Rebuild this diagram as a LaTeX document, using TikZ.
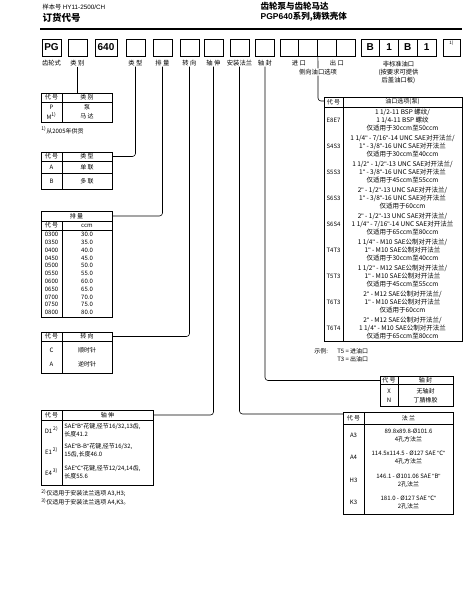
\documentclass[tikz,border=0pt]{standalone}
\usepackage{fontspec}
\setmainfont{Noto Sans CJK SC}
\newfontfamily\hvfont{Liberation Sans}
\newcommand{\qq}{{\hvfont"}}
\usetikzlibrary{positioning}

\begin{document}
\begin{tikzpicture}[x=1pt, y=-1pt, line width=0.6pt,
  codebox/.style={draw, line width=0.9pt, minimum width=19pt, minimum height=17pt, inner sep=0pt, font=\hvfont\bfseries\fontsize{10}{10}\selectfont},
  lbl/.style={inner sep=0.5pt, font=\fontsize{6.3}{7}\selectfont},
  cell/.style={inner sep=0pt, align=center, font=\fontsize{6}{8}\selectfont},
  portcell/.style={cell, font=\fontsize{6.5}{8}\selectfont},
  tabline/.style={line width=0.7pt},
  lead/.style={line width=0.6pt, rounded corners=3pt}]
  \useasboundingbox (0,0) rectangle (465,594);

  \node[anchor=west, font=\fontsize{6.3}{7}\selectfont] (sampleNo) at (39,7) {样本号 {\hvfont HY11-2500/CH}};
  \node[anchor=west, font=\bfseries\fontsize{9.5}{10}\selectfont] (orderCode) at (39,18) {订货代号};
  \node[anchor=west, font=\bfseries\fontsize{8.5}{10}\selectfont] (titleCn) at (257,6) {齿轮泵与齿轮马达};
  \node[anchor=west, font=\bfseries\fontsize{8.5}{10}\selectfont] (titleSer) at (257,17) {{\hvfont PGP640}系列,铸铁壳体};
  \draw[line width=1.5pt] (40,29) -- (462,29);

  \node[codebox] (bxPG) at (51.5,47.5) {PG};
  \node[codebox] (bxCat) at (77.5,47.5) {};
  \node[codebox, minimum width=22pt] (bxSer) at (106,47.5) {640};
  \node[codebox] (bxType) at (135.5,47.5) {};
  \node[codebox] (bxDisp) at (162.5,47.5) {};
  \node[codebox] (bxRot) at (189.5,47.5) {};
  \node[codebox] (bxShaft) at (213.5,47.5) {};
  \node[codebox] (bxFlange) at (239.5,47.5) {};
  \node[codebox] (bxSeal) at (265,47.5) {};
  \foreach \i in {1,...,4}
    \node[codebox, minimum width=18.75pt] (bxPort\i) at (270.6+18.75*\i,47.5) {};
  \foreach \t [count=\i] in {B,1,B,1}
    \node[codebox, minimum width=18.75pt] (bxExt\i) at (351.6+18.75*\i,47.5) {\t};
  \node[codebox, minimum width=17pt] (bxNote) at (451.5,47.5) {};
  \node[below=2pt of bxNote.north, inner sep=0pt, font=\fontsize{4.5}{5}\selectfont] (noteMark) {1)};

  \node[lbl] (lPG) at (51.5,63) {齿轮式};
  \node[lbl] (lCat) at (77.5,63) {类 别};
  \node[lbl] (lType) at (135.5,63) {类 型};
  \node[lbl] (lDisp) at (162.5,63) {排 量};
  \node[lbl] (lRot) at (189.5,63) {转 向};
  \node[lbl] (lShaft) at (213.5,63) {轴 伸};
  \node[lbl] (lFlange) at (239.5,63) {安装法兰};
  \node[lbl] (lSeal) at (265,63) {轴 封};
  \node[lbl] (lIn) at (299,63) {进 口};
  \node[lbl] (lOut) at (337,63) {出 口};
  \node[lbl] (lSide) at (318,72) {侧向油口选项};
  \node[lbl, align=center, font=\fontsize{6.3}{8}\selectfont] (lExt) at (398.5,72) {非标准油口\\(按要求可提供\\后盖油口板)};

  % category
  \draw[tabline] (41,93) rectangle (112,122);
  \draw[tabline] (41,102) -- (112,102) (62,93) -- (62,122);
  \node[cell] at (51.5,97.5) {代 号};
  \node[cell] at (87,97.5) {类 别};
  \node[cell] at (51.5,107) {P};
  \node[cell] at (87,107) {泵};
  \node[cell] at (51.5,116) {M\textsuperscript{1)}};
  \node[cell] at (87,116) {马 达};
  \node[cell, anchor=west] at (41,130) {\textsuperscript{1)}从2005年供货};
  \coordinate (catTab) at (77.5,93);
  \draw[lead] (lCat) -- (catTab);

  % type
  \draw[tabline] (41,152) rectangle (112,189);
  \draw[tabline] (41,161) -- (112,161) (41,173) -- (112,173) (62,152) -- (62,189);
  \node[cell] at (51.5,156.5) {代 号};
  \node[cell] at (87,156.5) {类 型};
  \node[cell] at (51.5,167) {A};
  \node[cell] at (87,167) {单 联};
  \node[cell] at (51.5,181) {B};
  \node[cell] at (87,181) {多 联};
  \coordinate (typeTab) at (112,156.5);
  \draw[lead] (lType.south) |- (typeTab);

  % displacement
  \draw[tabline] (41,211) rectangle (112,317);
  \draw[tabline] (41,221) -- (112,221) (41,230) -- (112,230) (62,221) -- (62,317);
  \node[cell] at (76.5,216) {排 量};
  \node[cell] at (51.5,225.5) {代 号};
  \node[cell] at (87,225.5) {ccm};
  \foreach \c/\m [count=\i from 0] in {0300/30.0,0350/35.0,0400/40.0,0450/45.0,0500/50.0,0550/55.0,0600/60.0,0650/65.0,0700/70.0,0750/75.0,0800/80.0}
  {
    \node[cell] at (51.5,234.5+7.8*\i) {\c};
    \node[cell] at (87,234.5+7.8*\i) {\m};
  }
  \coordinate (dispTab) at (112,216);
  \draw[lead] (lDisp.south) |- (dispTab);

  % rotation
  \draw[tabline] (41,332) rectangle (112,373);
  \draw[tabline] (41,341) -- (112,341) (62,332) -- (62,373);
  \node[cell] at (51.5,336.5) {代 号};
  \node[cell] at (87,336.5) {转 向};
  \node[cell] at (51.5,350) {C};
  \node[cell] at (87,350) {顺时针};
  \node[cell] at (51.5,364) {A};
  \node[cell] at (87,364) {逆时针};
  \coordinate (rotTab) at (112,336.5);
  \draw[lead] (lRot.south) |- (rotTab);

  % shaft
  \draw[tabline] (41,410) rectangle (153,485);
  \draw[tabline] (41,420) -- (153,420) (62,410) -- (62,485);
  \node[cell] at (51.5,415) {代 号};
  \node[cell] at (107.5,415) {轴 伸};
  \foreach \c/\t [count=\i from 0] in {D1/{SAE\qq B\qq 花键,径节16/32,13齿,\\长度41.2},E1/{SAE\qq B-B\qq 花键,径节16/32,\\15齿,长度46.0},E4/{SAE\qq C\qq 花键,径节12/24,14齿,\\长度55.6}}
  {
    \node[cell] at (51.5,430+21*\i) {\c\,\textsuperscript{\ifnum\i=2 3)\else 2)\fi}};
    \node[cell, anchor=west, align=left] at (64,430+21*\i) {\t};
  }
  \node[cell, anchor=west] at (41,493) {\textsuperscript{2)}仅适用于安装法兰选项 A3,H3;};
  \node[cell, anchor=west] at (41,502) {\textsuperscript{3)}仅适用于安装法兰选项 A4,K3。};
  \coordinate (shaftTab) at (153,415);
  \draw[lead] (lShaft.south) |- (shaftTab);

  % ports
  \draw[tabline] (324,97) rectangle (462,341);
  \draw[tabline] (324,107) -- (462,107) (343,97) -- (343,341);
  \node[cell] at (333.5,102) {代 号};
  \node[cell] at (402.5,102) {油口选项(泵)};
  \foreach \c/\t [count=\i from 0] in {
    E8E7/{1 1/2-11 BSP 螺纹/\\1 1/4-11 BSP 螺纹\\仅适用于30ccm至50ccm},
    S4S3/{1 1/4\qq\ - 7/16\qq -14 UNC SAE对开法兰/\\1\qq\ - 3/8\qq -16 UNC SAE对开法兰\\仅适用于30ccm至40ccm},
    S5S3/{1 1/2\qq\ - 1/2\qq -13 UNC SAE对开法兰/\\1\qq\ - 3/8\qq -16 UNC SAE对开法兰\\仅适用于45ccm至55ccm},
    S6S3/{2\qq\ - 1/2\qq -13 UNC SAE对开法兰/\\1\qq\ - 3/8\qq -16 UNC SAE对开法兰\\仅适用于60ccm},
    S6S4/{2\qq\ - 1/2\qq -13 UNC SAE对开法兰/\\1 1/4\qq\ - 7/16\qq -14 UNC SAE对开法兰\\仅适用于65ccm至80ccm},
    T4T3/{1 1/4\qq\ - M10 SAE公制对开法兰/\\1\qq\ - M10 SAE公制对开法兰\\仅适用于30ccm至40ccm},
    T5T3/{1 1/2\qq\ - M12 SAE公制对开法兰/\\1\qq\ - M10 SAE公制对开法兰\\仅适用于45ccm至55ccm},
    T6T3/{2\qq\ - M12 SAE公制对开法兰/\\1\qq\ - M10 SAE公制对开法兰\\仅适用于60ccm},
    T6T4/{2\qq\ - M12 SAE公制对开法兰/\\1 1/4\qq\ - M10 SAE公制对开法兰\\仅适用于65ccm至80ccm}}
  {
    \node[cell] at (333.5,120+26*\i) {\c};
    \node[portcell] at (402.5,120+26*\i) {\t};
  }
  \node[cell, anchor=west] at (314,351) {示例:};
  \node[cell, anchor=west] at (337,351) {T5 = 进油口};
  \node[cell, anchor=west] at (337,359) {T3 = 出油口};
  \coordinate (portTab) at (324,101);
  \draw[lead] (bxPort2.south east) -- (lSide);
  \draw[lead] (lSide.south) |- (portTab);

  % seal
  \draw[tabline] (380,376) rectangle (453,406);
  \draw[tabline] (380,384) -- (453,384) (398,376) -- (398,406);
  \node[cell] at (389,380) {代 号};
  \node[cell] at (425.5,380) {轴 封};
  \node[cell] at (389,391) {X};
  \node[cell] at (425.5,391) {无轴封};
  \node[cell] at (389,400.5) {N};
  \node[cell] at (425.5,400.5) {丁腈橡胶};
  \coordinate (sealTab) at (380,380.5);
  \draw[lead] (lSeal.south) |- (sealTab);

  % flange
  \draw[tabline] (343,412) rectangle (453,514);
  \draw[tabline] (343,424) -- (453,424) (364,412) -- (364,514);
  \node[cell] at (353.5,418) {代 号};
  \node[cell] at (408.5,418) {法 兰};
  \foreach \c/\t [count=\i from 0] in {A3/{89.8x89.8-Ø101.6\\4孔方法兰},A4/{114.5x114.5 - Ø127 SAE \qq C\qq\\4孔方法兰},H3/{146.1 - Ø101.06 SAE \qq B\qq\\2孔法兰},K3/{181.0 - Ø127 SAE \qq C\qq\\2孔法兰}}
  {
    \node[cell] at (353.5,435+22.5*\i) {\c};
    \node[cell] at (408.5,435+22.5*\i) {\t};
  }
  \coordinate (flTab) at (343,414);
  \draw[lead] (lFlange.south) |- (flTab);
\end{tikzpicture}
\end{document}
